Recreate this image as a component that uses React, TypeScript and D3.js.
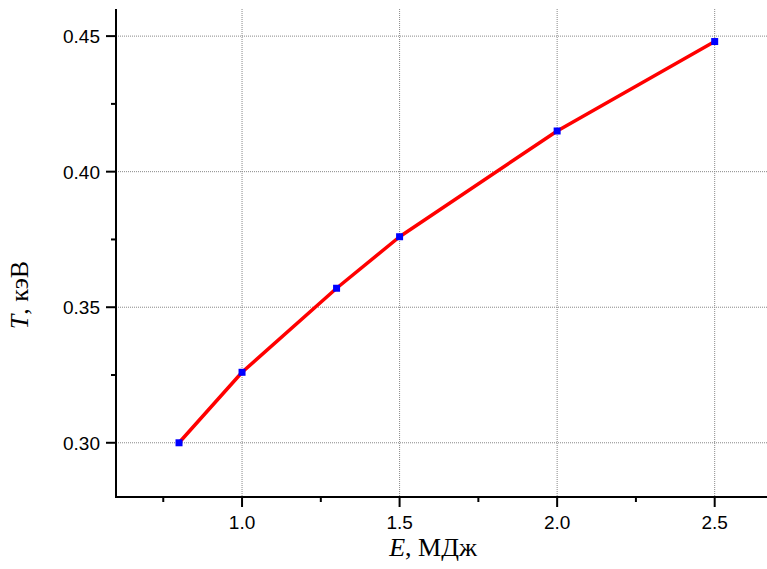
import React from "react";
import * as d3 from "d3";

const energies = [0.8, 1.0, 1.3, 1.5, 2.0, 2.5];
const temps = [0.3, 0.326, 0.357, 0.376, 0.415, 0.448];
const xMajorTicks = [1.0, 1.5, 2.0, 2.5];
const xMinorTicks = [0.75, 1.25, 1.75, 2.25];
const yMajorTicks = [0.3, 0.35, 0.4, 0.45];
const yMinorTicks = [0.325, 0.375, 0.425];

const W = 767;
const H = 569;
const left = 116;
const top = 9;
const bottom = 497;
const right = 767;

export default function App() {
  const x = d3.scaleLinear().domain([0.6, 2.666]).range([left, right]);
  const y = d3.scaleLinear().domain([0.28, 0.46]).range([bottom, top]);
  const data = energies.map((e, i) => [e, temps[i]] as [number, number]);
  const line = d3
    .line<[number, number]>()
    .x((d) => x(d[0]))
    .y((d) => y(d[1]))
    .curve(d3.curveLinear);
  const fmt = d3.format(".1f");
  const fmtY = d3.format(".2f");
  return (
    <svg
      width={W}
      height={H}
      style={{ position: "fixed", left: 0, top: 0, background: "#fff" }}
    >
      {/* grid */}
      {xMajorTicks.map((t) => (
        <line
          key={"gx" + t}
          x1={x(t)}
          x2={x(t)}
          y1={top}
          y2={bottom}
          stroke="#888"
          strokeWidth={1}
          strokeDasharray="1,1"
        />
      ))}
      {yMajorTicks.map((t) => (
        <line
          key={"gy" + t}
          x1={left}
          x2={right}
          y1={y(t)}
          y2={y(t)}
          stroke="#888"
          strokeWidth={1}
          strokeDasharray="1,1"
        />
      ))}
      {/* axes */}
      <line x1={left} x2={left} y1={top} y2={bottom + 1} stroke="#000" strokeWidth={2} />
      <line x1={left - 1} x2={right} y1={bottom} y2={bottom} stroke="#000" strokeWidth={2} />
      {xMajorTicks.map((t) => (
        <g key={"xt" + t}>
          <line x1={x(t)} x2={x(t)} y1={bottom} y2={bottom + 10} stroke="#000" strokeWidth={2} />
          <text
            x={x(t)}
            y={bottom + 32}
            textAnchor="middle"
            fontFamily="Liberation Sans, Arial, sans-serif"
            fontSize={19}
          >
            {fmt(t)}
          </text>
        </g>
      ))}
      {xMinorTicks.map((t) => (
        <line key={"xm" + t} x1={x(t)} x2={x(t)} y1={bottom} y2={bottom + 5} stroke="#000" strokeWidth={2} />
      ))}
      {yMajorTicks.map((t) => (
        <g key={"yt" + t}>
          <line x1={left - 10} x2={left} y1={y(t)} y2={y(t)} stroke="#000" strokeWidth={2} />
          <text
            x={left - 16}
            y={y(t)}
            dy="0.36em"
            textAnchor="end"
            fontFamily="Liberation Sans, Arial, sans-serif"
            fontSize={19}
          >
            {fmtY(t)}
          </text>
        </g>
      ))}
      {yMinorTicks.map((t) => (
        <line key={"ym" + t} x1={left - 5} x2={left} y1={y(t)} y2={y(t)} stroke="#000" strokeWidth={2} />
      ))}
      {/* titles */}
      <text
        x={433}
        y={556}
        textAnchor="middle"
        fontFamily="Liberation Serif, Times New Roman, serif"
        fontSize={26}
      >
        <tspan fontStyle="italic">E</tspan>, МДж
      </text>
      <text
        transform="translate(28,295) rotate(-90)"
        textAnchor="middle"
        fontFamily="Liberation Serif, Times New Roman, serif"
        fontSize={26}
      >
        <tspan fontStyle="italic">T</tspan>, кэВ
      </text>
      {/* data */}
      <path d={line(data) || ""} fill="none" stroke="#ff0000" strokeWidth={3.5} strokeLinejoin="round" />
      {data.map((d, i) => (
        <rect key={"p" + i} x={x(d[0]) - 3.5} y={y(d[1]) - 3.5} width={7} height={7} fill="#0000ff" />
      ))}
    </svg>
  );
}
